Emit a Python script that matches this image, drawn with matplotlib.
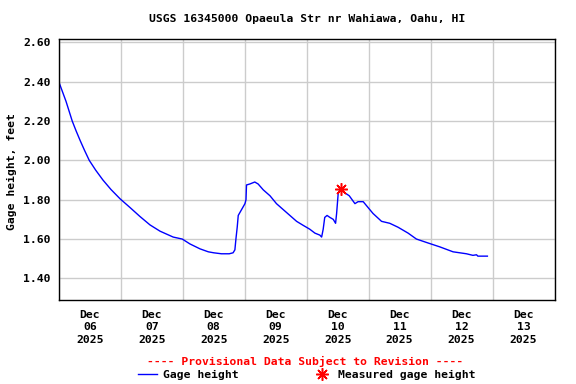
import pandas as pd
import matplotlib
matplotlib.use("Agg")
import matplotlib.pyplot as plt
import matplotlib.dates as mdates
from matplotlib.lines import Line2D

# =============================
# Data
# =============================
start = pd.Timestamp("2025-12-06 00:00")

hours = [0, 1.4, 2.8, 4.0, 5.2, 6.7, 8.3, 10.0, 11.8, 14.3, 17.1, 20.2, 23.7,
         27.6, 31.4, 35.3,
         39.2, 44.3, 47.8, 50.8, 54.7, 57.9, 60.0, 63.0, 66.0, 67.5, 68.2, 68.6,
         69.1, 69.5, 70.8, 72.1, 72.5, 72.7, 74.0, 75.9, 77.2, 79.2, 81.8, 84.3,
         86.9, 89.5, 92.1, 94.6, 97.2, 99.2, 101.1, 101.8, 102.4, 103.0, 103.9,
         105.0, 106.3, 107.2, 107.6, 108.2, 108.8, 109.2, 110.8, 112.5, 114.7,
         115.9, 117.9, 119.8, 121.7, 125.0, 128.2, 131.4, 135.3, 138.5, 143.0,
         147.6, 152.7, 157.9, 160.4, 161.8, 162.3, 166.0]
gage_ft = [2.40, 2.35, 2.30, 2.25, 2.20, 2.15, 2.10, 2.05, 2.00, 1.95, 1.90, 1.852, 1.805,
           1.76, 1.715, 1.672,
           1.64, 1.61, 1.60, 1.575, 1.55, 1.535, 1.53, 1.525, 1.525, 1.53, 1.545, 1.60,
           1.66, 1.72, 1.75, 1.78, 1.80, 1.875, 1.88, 1.89, 1.88, 1.85, 1.82, 1.78,
           1.75, 1.72, 1.69, 1.67, 1.65, 1.63, 1.62, 1.61, 1.65, 1.71, 1.72,
           1.71, 1.70, 1.68, 1.73, 1.83, 1.85, 1.85, 1.835, 1.82, 1.78,
           1.79, 1.79, 1.76, 1.73, 1.69, 1.68, 1.66, 1.63, 1.60, 1.58,
           1.56, 1.535, 1.525, 1.517, 1.52, 1.513, 1.513]

meas_hours = [109.2]
meas_ft = [1.853]

y_ticks = [1.40, 1.60, 1.80, 2.00, 2.20, 2.40, 2.60]

times = start + pd.to_timedelta(hours, unit="h")
meas_times = start + pd.to_timedelta(meas_hours, unit="h")

# =============================
# Plot
# =============================
font = "DejaVu Sans Mono"
fs = 8.2
plt.rcParams["font.family"] = font
plt.rcParams["font.weight"] = "bold"

fig = plt.figure(figsize=(5.76, 3.84), dpi=100)
ax = fig.add_axes([0.1021, 0.2188, 0.8606, 0.6789])

ax.plot(times, gage_ft, color="#0000ff", linewidth=1.0)
ax.plot(meas_times, meas_ft, linestyle="none", marker=(8, 2, 0),
        markersize=9, markeredgewidth=1.1, color="#ff0000")

ax.set_xlim(pd.Timestamp("2025-12-06"), pd.Timestamp("2025-12-14"))
ax.set_ylim(1.29, 2.616)
ax.set_yticks(y_ticks)
ax.set_yticklabels([f"{v:.2f}" for v in y_ticks])

ax.xaxis.set_major_locator(mdates.DayLocator())
ax.xaxis.set_major_formatter(plt.NullFormatter())
ax.xaxis.set_minor_locator(mdates.HourLocator(byhour=[12]))
ax.xaxis.set_minor_formatter(mdates.DateFormatter("%b\n%d\n%Y"))

ax.grid(True, which="major", color="#cccccc", linewidth=1.0)
ax.set_axisbelow(True)
ax.tick_params(which="both", length=0, labelsize=fs)
ax.tick_params(axis="x", which="minor", pad=7)
ax.tick_params(axis="y", pad=6)
for lbl in ax.xaxis.get_minorticklabels():
    lbl.set_linespacing(1.3)
    lbl.set_fontweight("bold")
for lbl in ax.get_yticklabels():
    lbl.set_fontweight("bold")
for sp in ax.spines.values():
    sp.set_color("black")
    sp.set_linewidth(1.0)

cx = (0.1021 + 0.9627) / 2
fig.text(cx, 1 - 19 / 384, "USGS 16345000 Opaeula Str nr Wahiawa, Oahu, HI",
         ha="center", va="center", fontsize=fs, fontweight="bold")
fig.text(11.7 / 576, 1 - 172 / 384, "Gage height, feet", rotation=90,
         ha="center", va="center", fontsize=fs, fontweight="bold")
fig.text(cx - 2 / 576, 1 - 361 / 384, "---- Provisional Data Subject to Revision ----",
         ha="center", va="center", fontsize=fs, fontweight="bold", color="#ff0000")

handles = [Line2D([], [], color="#0000ff", linewidth=1.0),
           Line2D([], [], linestyle="none", marker=(8, 2, 0), markersize=9,
                  markeredgewidth=1.1, color="#ff0000")]
fig.legend(handles, ["Gage height", "Measured gage height"], loc="center",
           bbox_to_anchor=(307 / 576, 1 - 375 / 384), ncol=2, frameon=False,
           fontsize=fs, handlelength=1.6, handletextpad=0.6, columnspacing=6.5,
           borderpad=0, borderaxespad=0)

fig.savefig("out.png", dpi=100)
